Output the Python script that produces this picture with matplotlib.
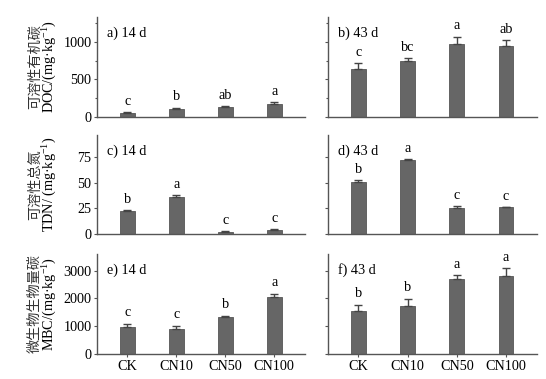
import matplotlib.pyplot as plt
import numpy as np
from matplotlib.ticker import MultipleLocator

plt.rcParams['font.family'] = ['Liberation Serif', 'Noto Sans CJK SC', 'DejaVu Sans']
plt.rcParams['mathtext.fontset'] = 'custom'
plt.rcParams['mathtext.rm'] = 'Liberation Serif'
plt.rcParams['mathtext.it'] = 'Liberation Serif:italic'

treatments = ['CK', 'CN10', 'CN50', 'CN100']

# DOC, mg/kg
doc_14 = [50, 110, 128, 168]
doc_14_err = [10, 10, 18, 30]
doc_14_sig = ['c', 'b', 'ab', 'a']
doc_43 = [633, 743, 977, 946]
doc_43_err = [80, 40, 88, 75]
doc_43_sig = ['c', 'bc', 'a', 'ab']

# TDN, mg/kg
tdn_14 = [22, 36.5, 2.2, 4.0]
tdn_14_err = [1.2, 1.3, 0.8, 0.6]
tdn_14_sig = ['b', 'a', 'c', 'c']
tdn_43 = [51, 72.3, 25.6, 25.9]
tdn_43_err = [1.5, 0.6, 2.0, 0.3]
tdn_43_sig = ['b', 'a', 'c', 'c']

# MBC, mg/kg
mbc_14 = [977, 917, 1337, 2060]
mbc_14_err = [120, 100, 25, 110]
mbc_14_sig = ['c', 'c', 'b', 'a']
mbc_43 = [1554, 1735, 2700, 2819]
mbc_43_err = [205, 240, 130, 265]
mbc_43_sig = ['b', 'b', 'a', 'a']

W, H = 546, 379
fig = plt.figure(figsize=(W / 100, H / 100), dpi=100)

cols = [(97, 305), (328, 537)]
rows = [(17, 117), (135, 234), (254, 354)]

panels = [
    [(doc_14, doc_14_err, doc_14_sig, 'a) 14 d'), (doc_43, doc_43_err, doc_43_sig, 'b) 43 d')],
    [(tdn_14, tdn_14_err, tdn_14_sig, 'c) 14 d'), (tdn_43, tdn_43_err, tdn_43_sig, 'd) 43 d')],
    [(mbc_14, mbc_14_err, mbc_14_sig, 'e) 14 d'), (mbc_43, mbc_43_err, mbc_43_sig, 'f) 43 d')],
]
ylims = [1330, 96.5, 3600]
majors = [500, 25, 1000]
minors = [250, 25, 1000]
offsets = [60, 4, 170]
ylabels = [('可溶性有机碳', 'DOC/(mg·kg$^{-1}$)'),
           ('可溶性总氮', 'TDN/ (mg·kg$^{-1}$)'),
           ('微生物生物量碳', 'MBC/(mg·kg$^{-1}$)')]

spine_col = '#555555'
bar_col = '#666666'
fs = 10.2
x = np.arange(len(treatments))

for r, (top, bot) in enumerate(rows):
    for c, (left, right) in enumerate(cols):
        ax = fig.add_axes([left / W, 1 - bot / H, (right - left) / W, (bot - top) / H])
        vals, errs, sigs, title = panels[r][c]
        ax.bar(x, vals, width=0.3, color=bar_col, edgecolor='#555555', linewidth=0.6,
               yerr=[np.zeros(len(vals)), errs], capsize=3,
               error_kw=dict(ecolor='#444444', elinewidth=1, capthick=1))
        for xi, v, e, s in zip(x, vals, errs, sigs):
            ax.text(xi, v + e + offsets[r], s, ha='center', va='bottom', fontsize=fs)
        ax.text(0.05, 0.84, title, transform=ax.transAxes, fontsize=fs, ha='left', va='center')
        ax.set_xlim(-0.62, 3.63)
        ax.set_ylim(0, ylims[r])
        ax.yaxis.set_major_locator(MultipleLocator(majors[r]))
        ax.yaxis.set_minor_locator(MultipleLocator(minors[r]))
        for side in ['top', 'right']:
            ax.spines[side].set_visible(False)
        for side in ['left', 'bottom']:
            ax.spines[side].set_color(spine_col)
            ax.spines[side].set_linewidth(1.0)
        ax.tick_params(axis='both', which='both', colors=spine_col, labelcolor='black',
                       labelsize=fs, direction='out', length=2.5, width=0.8, pad=1.5)
        ax.tick_params(axis='y', which='minor', length=1.8)
        ax.set_xticks(x)
        if r == 2:
            ax.set_xticklabels(treatments)
        else:
            ax.set_xticklabels([])
            ax.tick_params(axis='x', length=0)
        if c == 1:
            ax.set_yticklabels([])
        else:
            cy = 1 - (top + bot) / 2 / H
            fig.text(35 / W, cy, ylabels[r][0], rotation=90, ha='center', va='center',
                     fontsize=10.2, family=['Noto Sans CJK SC', 'DejaVu Sans'], color='#333333')
            fig.text(50 / W, cy, ylabels[r][1], rotation=90, ha='center', va='center',
                     fontsize=fs)

fig.savefig('out.png', dpi=100)
